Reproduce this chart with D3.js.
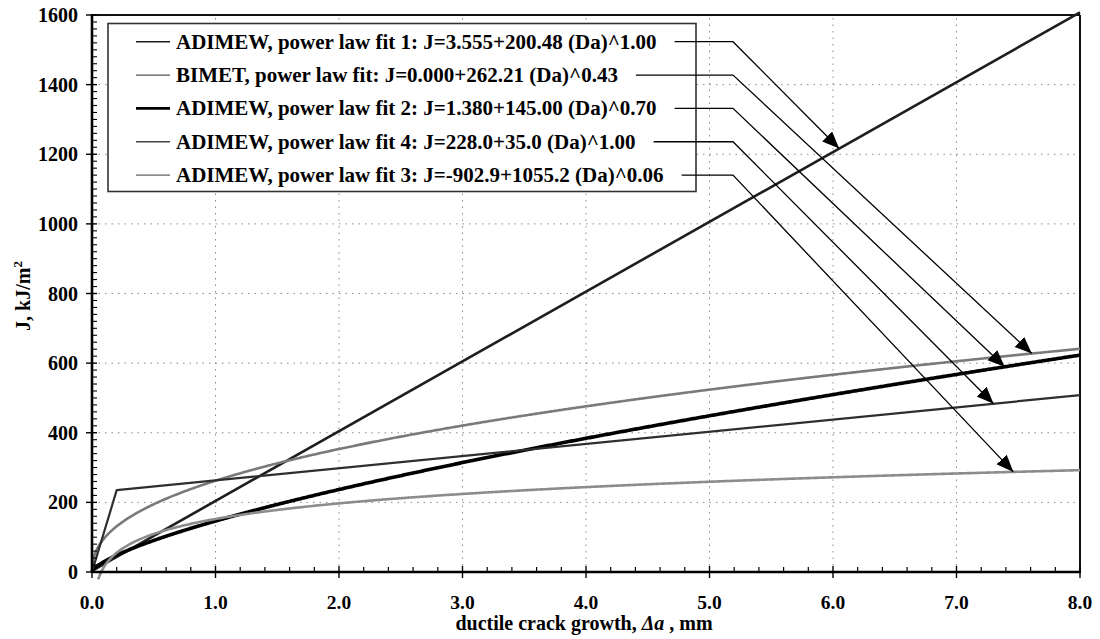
<!DOCTYPE html>
<html>
<head>
<meta charset="utf-8">
<script src="https://cdn.jsdelivr.net/npm/d3@7"></script>
<style>
  html, body { margin: 0; padding: 0; background: #fff; }
  svg text { font-family: "Liberation Serif", "Times New Roman", serif; font-weight: bold; }
</style>
</head>
<body>
<svg id="chart" width="1100" height="639"></svg>
<script>
// Power-law fits J = a + b * (Da)^n, as given in the legend
const seriesNames = [
  "ADIMEW, power law fit 1: J=3.555+200.48 (Da)^1.00",
  "BIMET, power law fit: J=0.000+262.21 (Da)^0.43",
  "ADIMEW, power law fit 2: J=1.380+145.00 (Da)^0.70",
  "ADIMEW, power law fit 4: J=228.0+35.0 (Da)^1.00",
  "ADIMEW, power law fit 3: J=-902.9+1055.2 (Da)^0.06"
];
const fitA = [3.555, 0.000, 1.380, 228.0, -902.9];
const fitB = [200.48, 262.21, 145.00, 35.0, 1055.2];
const fitN = [1.00, 0.43, 0.70, 1.00, 0.06];
// first Da value drawn for each fit, and blunting-line knee for fit 4
const fitStart = [0.0, 0.0, 0.0, 0.0, 0.05];
const fit4Knee = 0.2;
// Da where each annotation arrow meets its curve
const arrowDa = [6.05, 7.61, 7.39, 7.30, 7.46];

const xTicks = [0, 1, 2, 3, 4, 5, 6, 7, 8];
const yTicks = [0, 200, 400, 600, 800, 1000, 1200, 1400, 1600];

const svg = d3.select("#chart");
const x = d3.scaleLinear().domain([0, 8]).range([92, 1080]);
const y = d3.scaleLinear().domain([0, 1600]).range([572, 15]);

function J(i, da) {
  if (i === 3 && da < fit4Knee) {
    return (fitA[3] + fitB[3] * fit4Knee) * da / fit4Knee;
  }
  return fitA[i] + fitB[i] * Math.pow(da, fitN[i]);
}

// dotted grid
const grid = svg.append("g");
grid.selectAll("line.gx").data(xTicks.slice(1, -1)).join("line")
  .attr("x1", d => x(d)).attr("x2", d => x(d))
  .attr("y1", y(0)).attr("y2", y(1600))
  .attr("stroke", "#8a8a8a").attr("stroke-width", 1).attr("stroke-dasharray", "1.5,5");
grid.selectAll("line.gy").data(yTicks.slice(1, -1)).join("line")
  .attr("y1", d => y(d)).attr("y2", d => y(d))
  .attr("x1", x(0)).attr("x2", x(8))
  .attr("stroke", "#8a8a8a").attr("stroke-width", 1).attr("stroke-dasharray", "1.5,5");

// frame: top and right edges
svg.append("line").attr("x1", x(0)).attr("x2", x(8)).attr("y1", y(1600)).attr("y2", y(1600))
  .attr("stroke", "#111").attr("stroke-width", 2);
svg.append("line").attr("x1", x(8)).attr("x2", x(8)).attr("y1", y(1600)).attr("y2", y(0))
  .attr("stroke", "#111").attr("stroke-width", 2);

// curves
const lineStyles = [
  { stroke: "#1e1e1e", width: 2.6 },
  { stroke: "#7a7a7a", width: 2.6 },
  { stroke: "#000000", width: 3.6 },
  { stroke: "#2e2e2e", width: 2.2 },
  { stroke: "#8c8c8c", width: 2.6 }
];
const line = d3.line().x(d => x(d[0])).y(d => y(d[1]));
const curves = svg.append("g");
seriesNames.forEach((name, i) => {
  let das = d3.range(fitStart[i], 8.0001, 0.01);
  if (i === 3) das = [0, fit4Knee, 8];
  if (i === 0) das = [0, 8];
  const pts = das.map(d => [d, J(i, d)]);
  curves.append("path").datum(pts)
    .attr("d", line).attr("fill", "none")
    .attr("stroke", lineStyles[i].stroke)
    .attr("stroke-width", lineStyles[i].width)
    .attr("stroke-linejoin", "round");
});

// axes
const axisG = svg.append("g");
axisG.append("line").attr("x1", x(0) - 1).attr("x2", x(8) + 1).attr("y1", y(0)).attr("y2", y(0))
  .attr("stroke", "#000").attr("stroke-width", 2.4);
axisG.append("line").attr("x1", x(0)).attr("x2", x(0)).attr("y1", y(0) + 1).attr("y2", y(1600) - 1)
  .attr("stroke", "#000").attr("stroke-width", 2.6);

// x ticks
const xMinor = d3.range(0, 8.0001, 0.2).filter(v => Math.abs(v - Math.round(v)) > 1e-6);
axisG.selectAll("line.xm").data(xMinor).join("line")
  .attr("x1", d => x(d)).attr("x2", d => x(d)).attr("y1", y(0)).attr("y2", y(0) - 5)
  .attr("stroke", "#000").attr("stroke-width", 1.2);
axisG.selectAll("line.xM").data(xTicks).join("line")
  .attr("x1", d => x(d)).attr("x2", d => x(d)).attr("y1", y(0) - 6).attr("y2", y(0) + 6)
  .attr("stroke", "#000").attr("stroke-width", 1.4);
axisG.selectAll("text.xl").data(xTicks).join("text")
  .attr("x", d => x(d)).attr("y", 609).attr("text-anchor", "middle")
  .attr("font-size", 19.5).text(d => d3.format(".1f")(d));

// y ticks
const yMinor = d3.range(0, 1600, 20).filter(v => v % 200 !== 0);
axisG.selectAll("line.ym").data(yMinor).join("line")
  .attr("x1", x(0)).attr("x2", x(0) + 5).attr("y1", d => y(d)).attr("y2", d => y(d))
  .attr("stroke", "#000").attr("stroke-width", 1.1);
axisG.selectAll("line.yM").data(yTicks).join("line")
  .attr("x1", x(0) - 6).attr("x2", x(0) + 5).attr("y1", d => y(d)).attr("y2", d => y(d))
  .attr("stroke", "#000").attr("stroke-width", 1.4);
axisG.selectAll("text.yl").data(yTicks).join("text")
  .attr("x", 78).attr("y", d => y(d) + 7).attr("text-anchor", "end")
  .attr("font-size", 20).text(d => d);

// axis titles
const xt = svg.append("text").attr("x", 584).attr("y", 630).attr("text-anchor", "middle").attr("font-size", 20);
xt.append("tspan").text("ductile crack growth, ");
xt.append("tspan").attr("font-style", "italic").text("Δa");
xt.append("tspan").text(" , mm");

const yt = svg.append("text").attr("transform", "translate(30,296) rotate(-90)")
  .attr("text-anchor", "middle").attr("font-size", 20);
yt.append("tspan").text("J, kJ/m");
yt.append("tspan").attr("font-size", 13).attr("dy", -8).text("2");

// legend
const legend = svg.append("g");
legend.append("rect").attr("x", 108).attr("y", 23.5).attr("width", 588).attr("height", 168)
  .attr("fill", "#fff").attr("stroke", "#333").attr("stroke-width", 1.6);
const rowY = i => 41.7 + i * 33.35;
const legendSwatch = [
  { stroke: "#1e1e1e", width: 1.6 },
  { stroke: "#555", width: 1.3 },
  { stroke: "#000", width: 2.6 },
  { stroke: "#444", width: 1.6 },
  { stroke: "#8c8c8c", width: 1.8 }
];

// arrowhead
svg.append("defs").append("marker")
  .attr("id", "arrowhead").attr("markerUnits", "userSpaceOnUse")
  .attr("markerWidth", 20).attr("markerHeight", 16)
  .attr("refX", 17).attr("refY", 7).attr("orient", "auto")
  .append("path").attr("d", "M0,0 L17,7 L0,14 Z").attr("fill", "#000");

seriesNames.forEach((name, i) => {
  const cy = rowY(i);
  legend.append("line").attr("x1", 136).attr("x2", 170).attr("y1", cy).attr("y2", cy)
    .attr("stroke", legendSwatch[i].stroke).attr("stroke-width", legendSwatch[i].width);
  const t = legend.append("text").attr("x", 176).attr("y", cy + 7)
    .attr("font-size", 21).text(name);
  const endX = 176 + t.node().getComputedTextLength();
  const tipX = x(arrowDa[i]);
  const tipY = y(J(i, arrowDa[i]));
  svg.append("polyline")
    .attr("points", [[endX + 18, cy], [733, cy], [tipX, tipY]].map(p => p.join(",")).join(" "))
    .attr("fill", "none").attr("stroke", "#000").attr("stroke-width", 1.3)
    .attr("marker-end", "url(#arrowhead)");
});
</script>
</body>
</html>
